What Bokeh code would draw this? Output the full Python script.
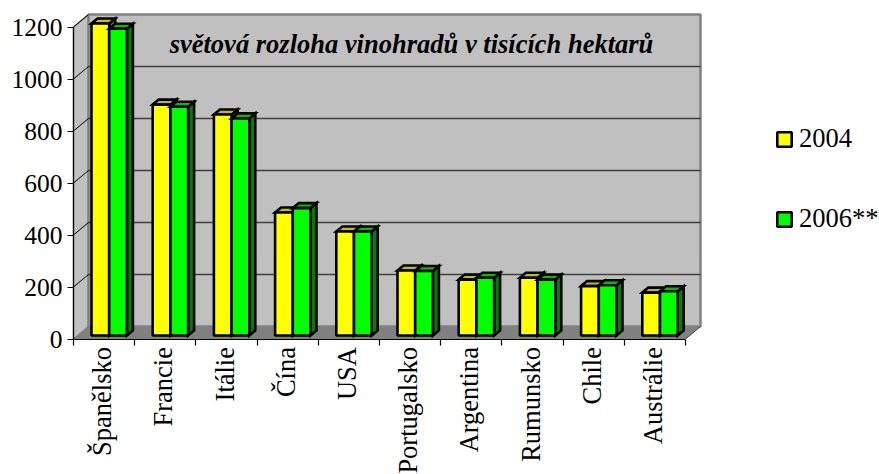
from bokeh.plotting import figure
from bokeh.embed import file_html
from bokeh.resources import INLINE
from bokeh.models import (LinearAxis, FixedTicker, Range1d, Legend, LegendItem, Label)

categories = ["Španělsko", "Francie", "Itálie", "Čína", "USA", "Portugalsko",
              "Argentina", "Rumunsko", "Chile", "Austrálie"]
values_2004 = [1200, 888, 850, 473, 400, 250, 215, 222, 190, 165]
values_2006 = [1180, 880, 835, 490, 400, 248, 222, 215, 193, 170]
y_ticks = [0, 200, 400, 600, 800, 1000, 1200]
title_text = "světová rozloha vinohradů v tisících hektarů"

FONT = "Liberation Serif"
PX_X = 61.2          # pixels per category
PX_Y = 0.26          # pixels per value unit
WALL_DX = 15 / PX_X  # depth of the chart box
WALL_DY = 12.5 / PX_Y
BAR_DX = 6 / PX_X    # depth of a bar
BAR_DY = 5 / PX_Y
BASE_DY = 3.5 / PX_Y
BAR_W = 17.7 / PX_X
BAR_START = 18 / PX_X
LABEL_SHIFT = 2 / PX_X
n = len(categories)
top = y_ticks[-1]

W, H = 879, 474
LEFT_PX, BOTTOM_PX = 73, 135.5
p = figure(width=W, height=H, output_backend="svg", toolbar_location=None,
           min_border_left=0, min_border_right=0, min_border_top=0, min_border_bottom=0,
           x_range=Range1d(-LEFT_PX / PX_X, (W - LEFT_PX) / PX_X),
           y_range=Range1d(-BOTTOM_PX / PX_Y, (H - BOTTOM_PX) / PX_Y),
           x_axis_type=None, y_axis_type=None, outline_line_color=None)
p.grid.visible = False

GRAY = "#C0C0C0"
DARK = "#808080"

# side wall, back wall and floor
p.patch([0, WALL_DX, WALL_DX, 0], [0, WALL_DY, top + WALL_DY, top],
        fill_color=GRAY, line_color=DARK, line_width=1.5)
p.quad(left=[WALL_DX], right=[n + WALL_DX], bottom=[WALL_DY], top=[top + WALL_DY],
       fill_color=GRAY, line_color=DARK, line_width=2.5)
p.patch([0, WALL_DX, n + WALL_DX, n], [0, WALL_DY, WALL_DY, 0],
        fill_color=DARK, line_color=None)
p.line([n, n + WALL_DX], [0, WALL_DY], line_color="#404040", line_width=1)

# gridlines on the back wall and the side wall
for t in y_ticks[1:-1]:
    p.line([WALL_DX, n + WALL_DX], [t + WALL_DY, t + WALL_DY], line_color="#404040", line_width=1.4)
for t in y_ticks[1:]:
    p.line([0, WALL_DX], [t, t + WALL_DY], line_color="black", line_width=1)

# bars
def bars(vals, offset, front, roof, side):
    lefts = [i + BAR_START + offset for i in range(n)]
    rights = [l + BAR_W for l in lefts]
    bottoms = [BASE_DY] * n
    tops = [v + BASE_DY for v in vals]
    xs_side = [[r, r + BAR_DX, r + BAR_DX, r] for r in rights]
    ys_side = [[b, b + BAR_DY, t + BAR_DY, t] for b, t in zip(bottoms, tops)]
    xs_top = [[l, l + BAR_DX, r + BAR_DX, r] for l, r in zip(lefts, rights)]
    ys_top = [[t, t + BAR_DY, t + BAR_DY, t] for t in tops]
    p.patches(xs_side, ys_side, fill_color=side, line_color="black", line_width=2.6, line_join="miter")
    p.patches(xs_top, ys_top, fill_color=roof, line_color="black", line_width=2.6, line_join="miter")
    return p.quad(left=lefts, right=rights, bottom=bottoms, top=tops,
                  fill_color=front, line_color="black", line_width=2.6)

r_2004 = bars(values_2004, 0, "#FFFF00", "#C0C000", "#808000")
r_2006 = bars(values_2006, BAR_W, "#00FF00", "#00C000", "#008000")

# axes, pinned to the data origin
yaxis = LinearAxis(ticker=FixedTicker(ticks=y_ticks), bounds=(0, top), fixed_location=0)
yaxis.major_tick_out = 6
yaxis.major_tick_in = 0
yaxis.minor_tick_line_color = None
yaxis.major_label_text_font = FONT
yaxis.major_label_text_font_size = "25.5px"
yaxis.major_label_text_color = "black"
yaxis.major_label_standoff = 5
yaxis.axis_line_width = 1.2
yaxis.major_tick_line_width = 1.2
p.add_layout(yaxis, "left")

centers = [i + 0.5 - LABEL_SHIFT for i in range(n)]
xaxis = LinearAxis(ticker=FixedTicker(ticks=centers, minor_ticks=list(range(n + 1))),
                   bounds=(0, n), fixed_location=0)
xaxis.major_label_overrides = {c: name for c, name in zip(centers, categories)}
xaxis.major_label_orientation = 1.5708
xaxis.major_tick_line_color = None
xaxis.minor_tick_out = 6
xaxis.minor_tick_in = 0
xaxis.minor_tick_line_color = "black"
xaxis.minor_tick_line_width = 1.2
xaxis.major_label_text_font = FONT
xaxis.major_label_text_font_size = "26.5px"
xaxis.major_label_text_color = "black"
xaxis.major_label_standoff = 2
xaxis.axis_line_width = 1.2
p.add_layout(xaxis, "below")

# title inside the chart box
p.add_layout(Label(x=n / 2 + WALL_DX + 17 / PX_X, y=top + WALL_DY - 29 / PX_Y, text=title_text,
                   text_font=FONT, text_font_style="bold italic", text_font_size="26.5px",
                   text_align="center", text_baseline="middle", text_color="black"))

# legend
legend = Legend(items=[LegendItem(label="2004", renderers=[r_2004]),
                       LegendItem(label="2006**", renderers=[r_2006])],
                location=(775, 240), orientation="vertical",
                glyph_width=18, glyph_height=18, label_standoff=6, spacing=49,
                padding=0, margin=0, border_line_color=None, background_fill_alpha=0,
                label_text_font=FONT, label_text_font_size="26.5px", label_text_color="black")
p.add_layout(legend)

open("out.html", "w").write(file_html(p, INLINE))
